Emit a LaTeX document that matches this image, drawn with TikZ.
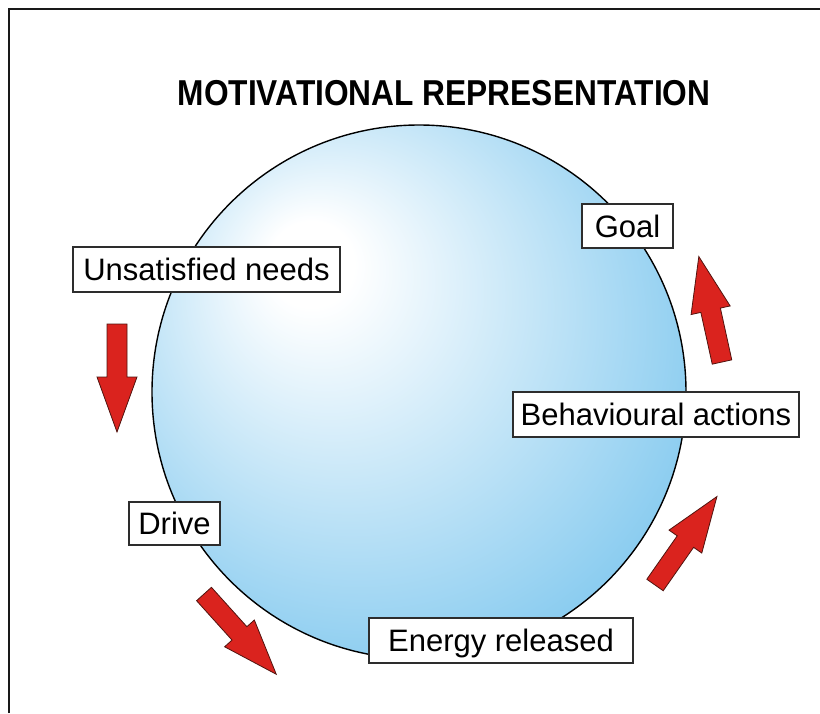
\documentclass[tikz,border=0pt]{standalone}
\usepackage{fontspec}
\setmainfont{Liberation Sans}
\usepackage{graphicx}
\definecolor{cblue}{RGB}{140,205,240}
\definecolor{ared}{RGB}{218,35,30}
\definecolor{aline}{RGB}{80,20,15}
\definecolor{boxc}{RGB}{45,45,45}
\definecolor{framec}{RGB}{25,25,25}
\pgfdeclareradialshading{ballshade}{\pgfpoint{-11bp}{13bp}}{color(0bp)=(white); color(4bp)=(white); color(31bp)=(cblue); color(50bp)=(cblue)}
\tikzset{
  lbl/.style={draw=boxc, fill=white, line width=1.3pt, font=\fontsize{31}{36}\selectfont,
    text height=22pt, text depth=0pt, inner xsep=0pt, inner ysep=0pt, minimum height=44pt},
  blockarr/.style={fill=ared, draw=aline, line width=0.8pt, line join=miter},
}
\newcommand\myblockarrow[2]{%
  \draw[blockarr, shift={(#1)}, rotate=#2] (0,-10) -- (53,-10) -- (53,-20) -- (108,0) -- (53,20) -- (53,10) -- (0,10) -- cycle;}
\begin{document}
\begin{tikzpicture}[x=1pt,y=-1pt]
\useasboundingbox (0,0) rectangle (820,713);
\draw[framec, line width=2.6pt] (9,713) -- (9,9) -- (820,9);
\node[font=\bfseries\fontsize{36}{40}\selectfont, anchor=base, inner sep=0pt] (title) at (444,105) {\scalebox{0.88}[1]{MOTIVATIONAL REPRESENTATION}};
\node[circle, minimum size=534pt, inner sep=0pt, shading=ballshade, draw=black, line width=1.4pt] (ball) at (419,392) {};
\node[lbl, minimum width=91pt] (goal) at (627.5,226) {Goal};
\node[lbl, minimum width=267pt, minimum height=45pt] (unsat) at (206.5,269.5) {Unsatisfied needs};
\node[lbl, minimum width=286pt, minimum height=45pt] (beh) at (656,414.5) {Behavioural actions};
\node[lbl, minimum width=91pt, minimum height=43pt] (drive) at (174.5,523.5) {Drive};
\node[lbl, minimum width=264pt, minimum height=45pt] (energy) at (501,640.5) {Energy released};
\coordinate (t1) at (117,324);
\coordinate (t2) at (204,594);
\coordinate (t3) at (655,585);
\coordinate (t4) at (722,362);
\myblockarrow{t1}{-90}
\myblockarrow{t2}{-48}
\myblockarrow{t3}{55}
\myblockarrow{t4}{102.4}
\end{tikzpicture}
\end{document}
